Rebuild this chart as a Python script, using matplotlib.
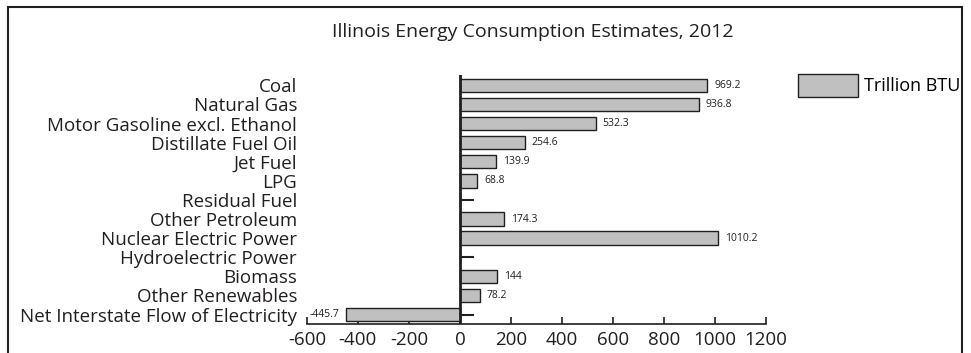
import matplotlib
matplotlib.use("Agg")
import matplotlib.pyplot as plt
from matplotlib.patches import Rectangle
import numpy as np

categories = ["Coal", "Natural Gas", "Motor Gasoline excl. Ethanol",
              "Distillate Fuel Oil", "Jet Fuel", "LPG", "Residual Fuel",
              "Other Petroleum", "Nuclear Electric Power",
              "Hydroelectric Power", "Biomass", "Other Renewables",
              "Net Interstate Flow of Electricity"]
values = [969.2, 936.8, 532.3, 254.6, 139.9, 68.8, 0,
          174.3, 1010.2, 0, 144, 78.2, -445.7]
xticks = [-600, -400, -200, 0, 200, 400, 600, 800, 1000, 1200]

plt.rcParams['font.family'] = ['Open Sans', 'DejaVu Sans']
plt.rcParams['axes.unicode_minus'] = False

fig = plt.figure(figsize=(9.71, 3.53), dpi=100)
ax = fig.add_axes([0.316, 0.082, 0.473, 0.706])

y = np.arange(len(categories))[::-1]
# little ticks at x=0 pointing right, hidden behind the bars
ax.plot(np.zeros(len(y)), y, linestyle='none', marker=1, markersize=10,
        markeredgewidth=1.5, color='#231f20', zorder=0.5)
bars = ax.barh(y, values, height=0.7, color='#c0c0c0',
               edgecolor='#231f20', linewidth=1, zorder=2,
               label='Trillion BTU')
ax.axvline(0, color='#231f20', linewidth=2, zorder=3)

labels = ['' if v == 0 else f'{v:g}' for v in values]
ax.bar_label(bars, labels=labels, padding=5, fontsize=7.5, color='#231f20')

ax.set_xlim(-600, 1200)
ax.set_ylim(-0.5, len(categories) - 0.45)
ax.set_xticks(xticks)
ax.set_yticks(y)
ax.set_yticklabels(categories)
ax.tick_params(axis='y', length=0, pad=7, labelsize=13.5, labelcolor='#231f20')
ax.tick_params(axis='x', direction='in', length=5, width=1.2, pad=5,
               labelsize=13.5, labelcolor='#231f20', color='#231f20')
for s in ['top', 'right', 'left']:
    ax.spines[s].set_visible(False)
ax.spines['bottom'].set_linewidth(1.2)
ax.spines['bottom'].set_color('#231f20')

fig.suptitle('Illinois Energy Consumption Estimates, 2012', fontsize=14,
             x=0.549, y=0.935, color='#231f20')

ax.legend(loc='upper left', bbox_to_anchor=(1.07, 1.005), frameon=False,
          fontsize=13, handlelength=3.3, handleheight=1.65, handletextpad=0.35,
          borderaxespad=0, borderpad=0)

fig.patches.append(Rectangle((8 / 971, -0.1), 954 / 971, 1.1 - 7 / 353,
                             transform=fig.transFigure, fill=False,
                             edgecolor='#231f20', linewidth=1.5))

fig.savefig('out.png', dpi=100)
